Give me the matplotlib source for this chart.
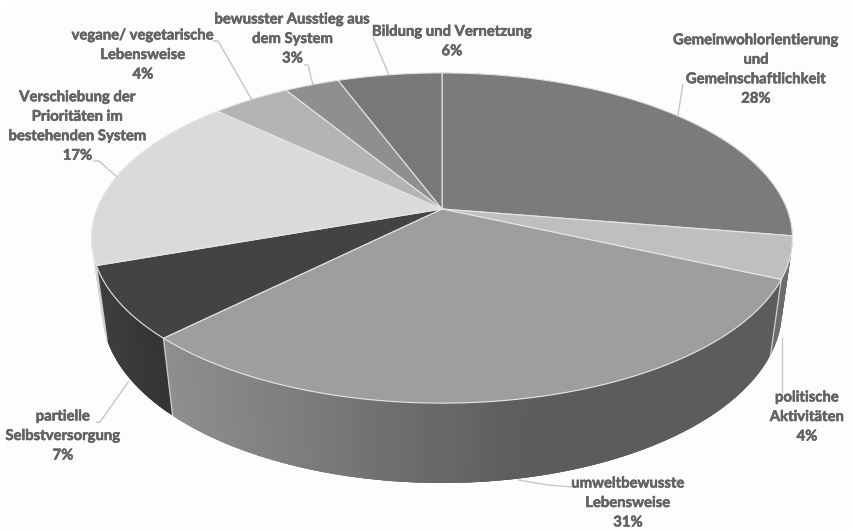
import numpy as np
import matplotlib
matplotlib.use("Agg")
import matplotlib.pyplot as plt
import matplotlib.patheffects as pe
from matplotlib.patches import Rectangle

categories = ["Gemeinwohlorientierung\nund\nGemeinschaftlichkeit", "politische\nAktivitäten",
              "umweltbewusste\nLebensweise", "partielle\nSelbstversorgung",
              "Verschiebung der\nPrioritäten im\nbestehenden System", "vegane/ vegetarische\nLebensweise",
              "bewusster Ausstieg aus\ndem System", "Bildung und Vernetzung"]
values = [27.6, 4.1, 30.8, 7.1, 17.4, 4.3, 3.0, 5.7]

# ---- styles
top_grey = ["#7b7b7b", "#bfbfbf", "#9e9e9e", "#434343", "#dadada", "#b4b4b4", "#8f8f8f", "#787878"]
side_x = [[0, 854], [0, 854], [172, 300, 442, 500, 560], [100, 172], [0, 854], [0, 854], [0, 854], [0, 854]]
side_g = [[0x6e, 0x6e], [0x6c, 0x6c], [0x8e, 0x7e, 0x68, 0x5e, 0x5c], [0x3e, 0x33],
          [0xd8, 0xd8], [0xa0, 0xa0], [0x80, 0x80], [0x70, 0x70]]
label_xy = [(756, 69.5), (807, 417), (628, 503), (63, 436), (77.5, 126.5), (143, 55), (292.5, 39), (452, 41.5)]
leaders = [[(683, 84), (678, 115)], [(782, 337), (782, 393)], [(572, 487), (548, 485), (518, 480)],
           [(96, 422), (100, 422), (129, 381)], [(93, 161), (99, 161), (117, 177)],
           [(213, 41), (218, 41), (252, 100)], [(304, 65), (308, 65), (313, 85)], [(373, 37), (389, 75)]]

# ---- perspective projection of the pie disc
CX, CY, A, B, K, M, C = 442, 209, 345, 160, -0.1758, 0.03, 74

def project(theta, z=0.0, r=1.0):
    u, v = r * np.sin(theta), -r * np.cos(theta)
    w = 1 + K * v + M * z
    return CX + A * u / w, CY + (B * v + C * z) / w

fig = plt.figure(figsize=(8.54, 5.30), dpi=100, facecolor="white")
ax = fig.add_axes([0, 0, 1, 1])
ax.set_xlim(0, 854)
ax.set_ylim(530, 0)
ax.axis("off")
ax.add_patch(Rectangle((6, 7), 848, 523, facecolor="#fdfdfd", edgecolor="none", zorder=0))

edges = np.cumsum([0] + values) / sum(values) * 2 * np.pi
step = np.radians(1.0)

# rim: short overlapping quads, back to front
quads = []
for i, (t0, t1) in enumerate(zip(edges[:-1], edges[1:])):
    n = max(int((t1 - t0) / step), 1)
    ts = np.linspace(t0, t1, n + 1)
    for a, b in zip(ts[:-1], ts[1:]):
        mid = (a + b) / 2
        xm, _ = project(mid)
        g = np.interp(xm, side_x[i], side_g[i]) / 255
        quads.append((-np.cos(mid), max(a - step, t0), min(b + step, t1), (g, g, g)))
quads.sort(key=lambda q: q[0])
for _, a, b, col in quads:
    ts = np.linspace(a, b, 5)
    xa, ya = project(ts)
    xb, yb = project(ts[::-1], 1)
    ax.fill(np.r_[xa, xb], np.r_[ya, yb], facecolor=col, edgecolor="none", zorder=2)

# visible seams on the rim
for k in (2, 3, 4):
    t = edges[k]
    x0, y0 = project(t)
    x1, y1 = project(t, 1)
    ax.plot([x0, x1], [y0, y1], color="#cfcfcf", lw=0.9, zorder=3)

# top faces
for i, (t0, t1) in enumerate(zip(edges[:-1], edges[1:])):
    ts = np.linspace(t0, t1, 200)
    xs, ys = project(ts)
    ax.fill(np.r_[CX, xs], np.r_[CY, ys], facecolor=top_grey[i], edgecolor="#e6e6e6", lw=0.8,
            joinstyle="round", zorder=4)

# leader lines
for pts in leaders:
    px, py = zip(*pts)
    ax.plot(px, py, color="#c6c6c6", lw=1.0, zorder=5, solid_capstyle="butt")

# labels
for cat, val, (lx, ly) in zip(categories, values, label_xy):
    ax.text(lx, ly, f"{cat}\n{round(val)}%", ha="center", va="center", multialignment="center",
            family="Lato", weight="bold", fontsize=10.7, color="#636363", linespacing=1.5, zorder=6,
            path_effects=[pe.withStroke(linewidth=0.4, foreground="#636363")])

fig.savefig("out.png", dpi=100, facecolor="white")
